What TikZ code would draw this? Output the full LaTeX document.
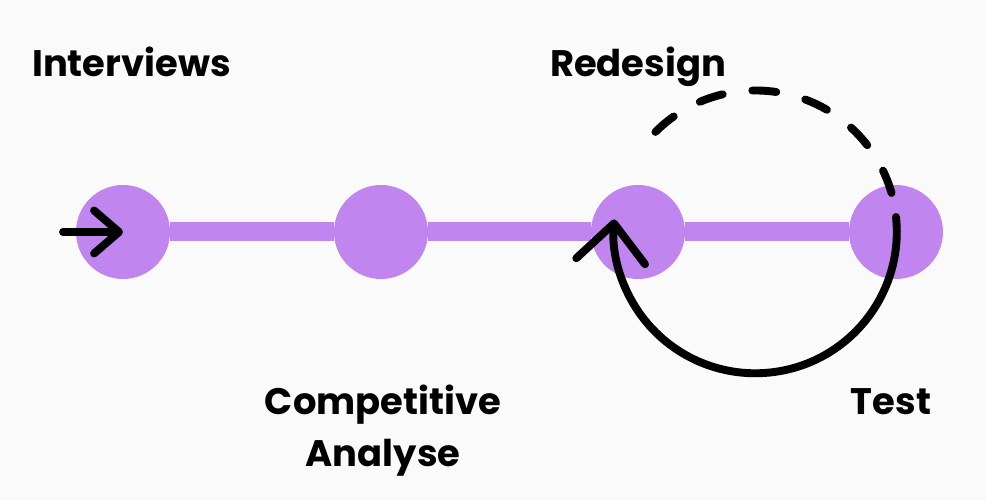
\documentclass[tikz,border=0pt]{standalone}
\usepackage{fontspec}
\setmainfont{Poppins}
\usepackage{xcolor}
\usetikzlibrary{arrows.meta}
\definecolor{stagepurple}{RGB}{193,133,240}
\definecolor{paper}{RGB}{250,250,250}

\begin{document}
\begin{tikzpicture}[
		stage/.style={circle, fill=stagepurple, minimum size=1.88cm, inner sep=0pt},
		track/.style={stagepurple, line width=0.38cm},
		steplabel/.style={font=\fontsize{21}{29.6}\selectfont\bfseries, align=center, anchor=base, inner sep=0pt},
		flow/.style={line width=4.5pt, line cap=round, -{Straight Barb[length=0.5cm, width=0.86cm, round]}},
		loopback/.style={line width=4.5pt, line cap=round, -{Straight Barb[length=0.76cm, width=1.38cm, round]}},
		retry/.style={line width=4.5pt, line cap=round, dash pattern=on 0.48cm off 0.6cm}]
			\fill[paper] (0,0) rectangle (19.72,10);
			\useasboundingbox (0,0) rectangle (19.72,10);
			% stages
			\node[stage] at (2.46,5.36) (intv){};
			\node[stage] at (7.62,5.36) (comp){};
			\node[stage] at (12.76,5.36) (redes){};
			\node[stage] at (17.92,5.36) (test){};
			\draw[track] (intv.east) -- (comp.west);
			\draw[track] (comp.east) -- (redes.west);
			\draw[track] (redes.east) -- (test.west);
			% labels
			\node[steplabel] at (2.63,8.46) (intvlabel){Interviews};
			\node[steplabel] at (12.76,8.46) (redeslabel){Redesign};
			\node[steplabel] at (7.66,0.66) (complabel){Competitive\\Analyse};
			\node[steplabel] at (17.82,1.7) (testlabel){Test};
			% arrows
			\coordinate (entry) at (1.26,5.36);
			\coordinate (loop) at (15.11,5.36);
			\draw[flow] (entry) -- (intv.center);
			\draw[loopback] ([yshift=0.3cm]test.center) arc[start angle=6, end angle=-185, radius=2.83cm];
			\draw[retry] ([shift={(135:2.83)}]loop) arc[start angle=135, end angle=16, radius=2.83cm];
		\end{tikzpicture}
\end{document}
